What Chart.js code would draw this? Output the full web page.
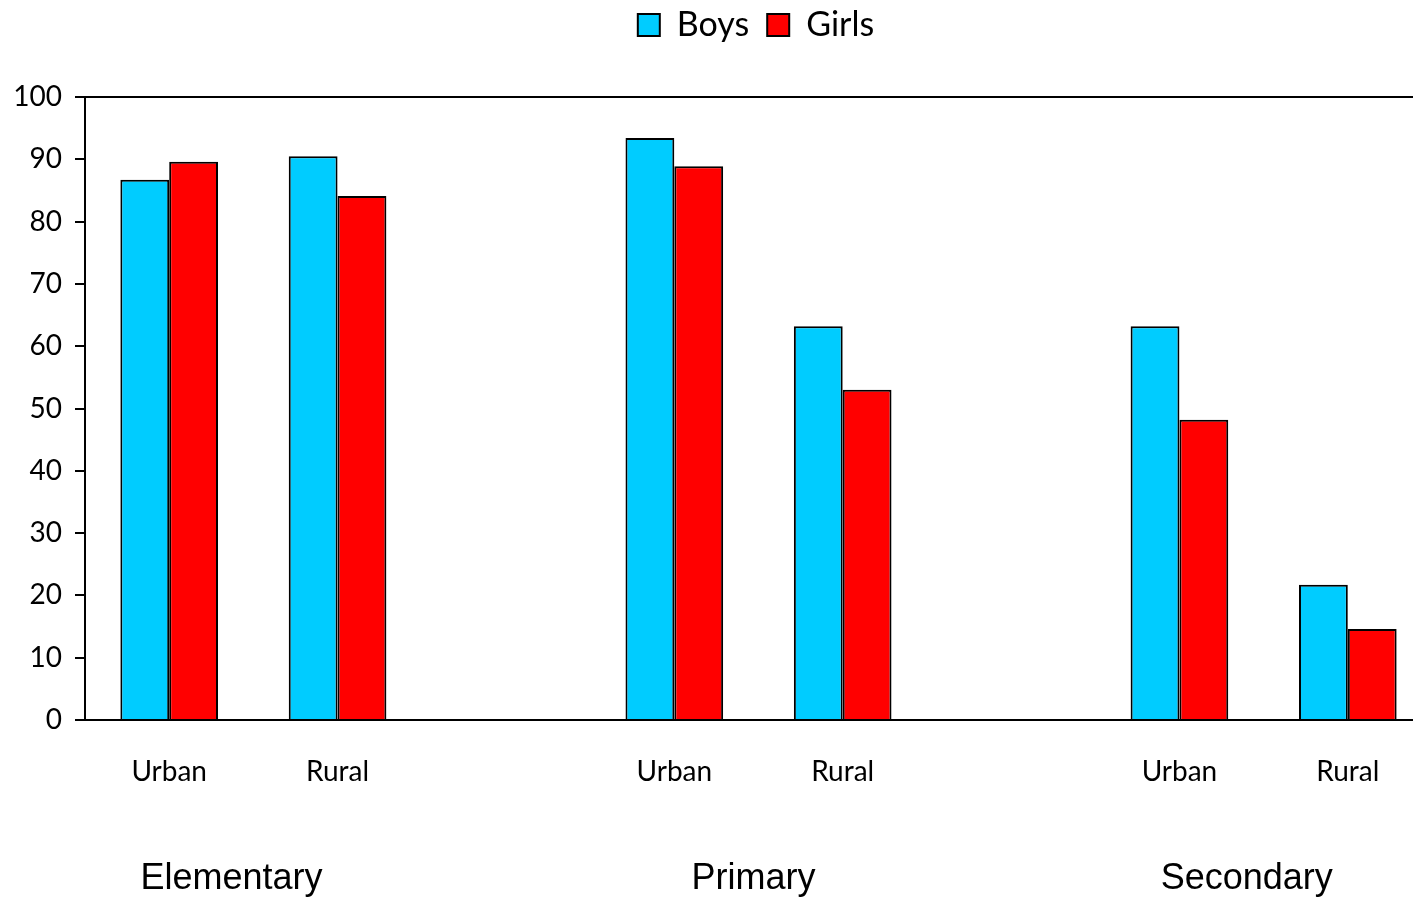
<!DOCTYPE html>
<html>
<head>
<meta charset="utf-8">
<script src="https://cdn.jsdelivr.net/npm/chart.js@4"></script>
<style>
  html, body { margin: 0; padding: 0; background: #fff; }
  #wrap { width: 1413px; height: 899px; overflow: hidden; }
</style>
</head>
<body>
<div id="wrap"><canvas id="c" width="1432" height="899"></canvas></div>
<script>
// ---- data ----
const categories = ["Urban", "Rural", "", "Urban", "Rural", "", "Urban", "Rural"];
const boys  = [86.7, 90.5, null, 93.4, 63.2, null, 63.2, 21.7];
const girls = [89.6, 84.1, null, 88.9, 53.0, null, 48.2, 14.6];
const groups = ["Elementary", "Primary", "Secondary"];
const yTicks = [0, 10, 20, 30, 40, 50, 60, 70, 80, 90, 100];

// where each group title sits, in category units
const groupAt = [0.37, 3.47, 6.4];

const groupLabels = {
  id: "groupLabels",
  afterDraw(chart) {
    const ctx = chart.ctx, x = chart.scales.x;
    ctx.save();
    ctx.font = "36px 'Liberation Sans', Arial, sans-serif";
    ctx.fillStyle = "#000";
    ctx.textAlign = "center";
    ctx.textBaseline = "middle";
    groups.forEach((g, i) => {
      const px = x.getPixelForValue(Math.floor(groupAt[i])) +
        (groupAt[i] % 1) * (x.getPixelForValue(1) - x.getPixelForValue(0));
      ctx.fillText(g, px, 879);
    });
    ctx.restore();
  }
};

// fixed legend band height, legend nudged to where the original sits
const legendTweak = {
  id: "legendTweak",
  beforeInit(chart) {
    const lg = chart.legend;
    const fit = lg.fit, draw = lg.draw;
    lg.fit = function () {
      fit.bind(lg)();
      this.height = 97;
    };
    lg.draw = function () {
      const ctx = chart.ctx;
      ctx.save();
      ctx.translate(40, -10);
      draw.bind(lg)();
      ctx.restore();
    };
  }
};

new Chart(document.getElementById("c"), {
  type: "bar",
  data: {
    labels: categories,
    datasets: [
      { label: "Boys", data: boys, backgroundColor: "#00CCFF", borderColor: "#000", borderWidth: 2 },
      { label: "Girls", data: girls, backgroundColor: "#FF0000", borderColor: "#000", borderWidth: 2 }
    ]
  },
  options: {
    responsive: false,
    animation: false,
    layout: { padding: 0 },
    datasets: { bar: { categoryPercentage: 0.58, barPercentage: 1 } },
    plugins: {
      tooltip: { enabled: false },
      legend: {
        position: "top",
        labels: {
          font: { family: "Lato", size: 34 },
          color: "#000",
          boxWidth: 22,
          boxHeight: 22,
          padding: 18
        }
      }
    },
    scales: {
      x: {
        afterFit: s => { s.height = 179; },
        grid: { display: false },
        border: { display: true, color: "#000", width: 2 },
        ticks: { font: { family: "Lato", size: 28 }, color: "#000", padding: 27, maxRotation: 0, autoSkip: false }
      },
      y: {
        min: 0, max: 100,
        afterFit: s => { s.width = 85; },
        afterBuildTicks: s => { s.ticks = yTicks.map(v => ({ value: v })); },
        border: { display: true, color: "#000", width: 2 },
        grid: {
          color: c => c.tick && c.tick.value === 100 ? "#000" : "rgba(0,0,0,0)",
          tickColor: "#000",
          tickLength: 10,
          lineWidth: 2
        },
        ticks: { font: { family: "Lato", size: 28 }, color: "#000", padding: 13 }
      }
    }
  },
  plugins: [groupLabels, legendTweak]
});
</script>
</body>
</html>
